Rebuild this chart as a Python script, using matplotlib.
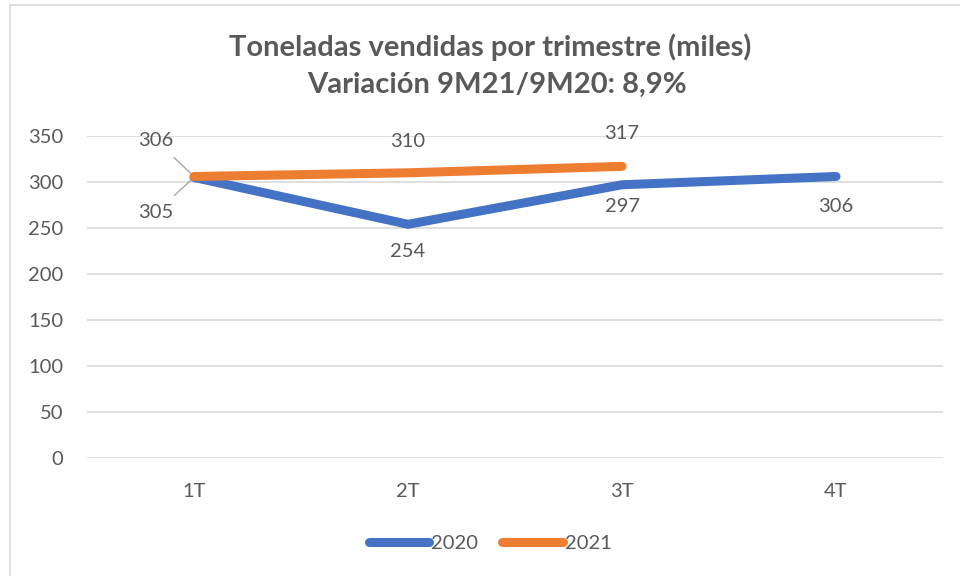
"""Toneladas vendidas por trimestre, 2020 vs 2021."""

import matplotlib.pyplot as plt
from matplotlib.patches import Rectangle

quarters = ["1T", "2T", "3T", "4T"]
sales_2020 = [305, 254, 297, 306]
sales_2021 = [306, 310, 317]
y_ticks = [0, 50, 100, 150, 200, 250, 300, 350]

title_1 = "Toneladas vendidas por trimestre (miles)"
title_2 = "Variación 9M21/9M20: 8,9%"

BLUE = "#4472C4"
ORANGE = "#ED7D31"
TEXT = "#595959"
GRID = "#D9D9D9"
FS = 14.5

plt.rcParams["font.family"] = ["Lato", "DejaVu Sans"]

W, H = 960, 576
fig = plt.figure(figsize=(W / 100, H / 100), dpi=100)

# chart border (runs off the right/bottom edge like the screenshot)
fig.patches.append(Rectangle((9.5 / W, -0.1), 1.2, (H - 4.5) / H + 0.1,
                             transform=fig.transFigure, fill=False,
                             edgecolor=GRID, lw=1.2))

ax = fig.add_axes([87 / W, (H - 458) / H, (943 - 87) / W, (458 - 136) / H])
x = list(range(len(quarters)))

ax.plot(x, sales_2020, color=BLUE, lw=6.5, solid_capstyle="round",
        solid_joinstyle="miter", label="2020", zorder=3)
ax.plot(x[:len(sales_2021)], sales_2021, color=ORANGE, lw=6.5,
        solid_capstyle="round", label="2021", zorder=4)

ax.set_xlim(-0.5, len(quarters) - 0.5)
ax.set_ylim(0, 350)
ax.set_yticks(y_ticks)
ax.set_xticks(x)
ax.set_xticklabels(quarters)
ax.grid(axis="y", color=GRID, lw=1.2)
ax.set_axisbelow(True)
for s in ax.spines.values():
    s.set_visible(False)
ax.tick_params(axis="both", length=0, labelsize=FS, labelcolor=TEXT)
ax.tick_params(axis="y", pad=17)
ax.tick_params(axis="x", pad=18)

# data labels: offsets in pixels (converted to points)
off_2020 = [(-38, -35), (0, -27), (0, -22), (0, -30)]
off_2021 = [(-38, 36), (0, 31), (0, 33)]
for series, offs in ((sales_2020, off_2020), (sales_2021, off_2021)):
    for i, (v, (dx, dy)) in enumerate(zip(series, offs)):
        kw = {}
        if dx != 0:
            kw["arrowprops"] = dict(arrowstyle="-", color="#A6A6A6", lw=1,
                                    shrinkA=6, shrinkB=0)
        ax.annotate(str(v), (i, v), xytext=(dx * 0.72, dy * 0.72),
                    textcoords="offset points", ha="center", va="center",
                    fontsize=FS, color=TEXT, **kw)

fig.text(490 / W, 1 - 47 / H, title_1, ha="center", va="center",
         fontsize=21, fontweight="bold", color=TEXT)
fig.text(497 / W, 1 - 85 / H, title_2, ha="center", va="center",
         fontsize=21, fontweight="bold", color=TEXT)

leg = fig.legend(loc="center", bbox_to_anchor=(490 / W, 1 - 543 / H),
                 ncol=2, frameon=False, fontsize=FS, handlelength=3.0,
                 handletextpad=0.1, columnspacing=1.2)
for t in leg.get_texts():
    t.set_color(TEXT)

fig.savefig("out.png", dpi=100)
